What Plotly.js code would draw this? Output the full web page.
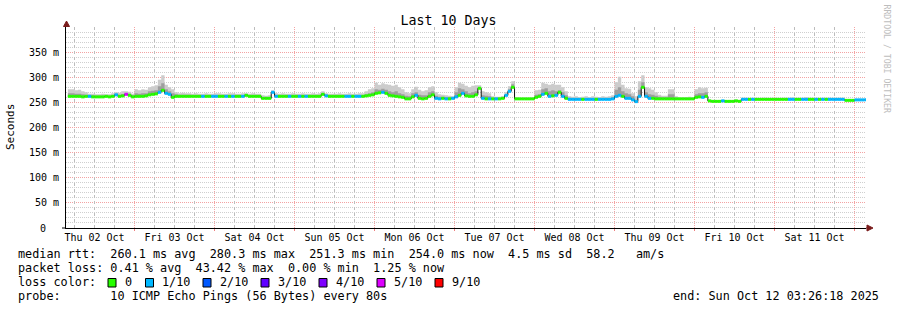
<!DOCTYPE html>
<html><head><meta charset="utf-8">
<script src="https://cdn.plot.ly/plotly-3.0.1.min.js"></script>
<style>html,body{margin:0;padding:0;background:#fff}#chart{width:897px;height:310px}</style>
</head><body><div id="chart"></div>
<script>
// hourly samples starting 2025-10-02 04:00
const median = [
262,262,262,262,261,262,262,261,261,261,
261,262,261,262,265,262,263,266,264,261,
262,262,262,263,265,266,267,270,274,268,
266,260,262,262,262,262,262,262,262,262,
262,262,262,262,262,262,262,262,262,262,
262,262,262,264,262,262,262,262,258,258,
258,270,262,262,262,262,262,262,262,262,
262,262,262,262,262,262,266,263,262,262,
262,262,262,262,262,262,262,262,262,263,
264,265,268,269,270,268,264,263,262,261,
260,257,257,261,264,258,257,258,262,265,
258,257,258,257,257,258,261,264,268,263,
262,262,265,278,258,257,257,257,257,257,
258,264,272,280,257,257,257,257,257,257,
260,262,266,268,262,263,264,270,262,258,
256,256,256,256,256,256,256,256,256,256,
256,256,256,257,262,264,262,258,258,255,
251.5,262,280,262,258,258,257,257,257,257,
257,257,257,257,257,257,257,257,260,261,
260,262,253,252,252,252,253,252,252,252,
253,252,256,256,256,256,256,256,256,256,
256,256,256,256,256,256,256,256,256,256,
256,256,256,256,256,256,256,256,256,256,
256,256,256,254,254,254,255,255,255,255];
const smokeHi = [
276,276,274,275,272,270,267,267,266,266,
267,266,266,268,270,269,272,272,271,267,
276,274,276,275,280,282,284,295,304,285,
280,276,270,268,269,268,268,267,268,267,
267,268,267,267,268,268,267,267,268,268,
267,267,268,268,267,268,267,267,264,263,
264,274,268,267,268,267,267,268,267,267,
268,267,267,268,267,268,272,268,267,267,
267,268,267,267,268,267,267,268,268,272,
276,278,289,285,288,286,285,283,285,280,
276,270,268,276,281,275,272,274,280,282,
270,266,265,264,263,262,280,289,287,283,
280,283,284,284,272,270,268,262,261,261,
262,270,282,292,260,259,259,259,259,260,
274,275,289,287,285,287,285,285,280,272,
262,261,262,260,261,262,260,262,261,260,
262,261,262,264,290,301,285,278,277,268,
262,292,304,280,278,275,270,265,263,263,
276,276,262,260,260,260,261,260,276,280,
278,279,255,254,254,254,255,254,254,254,
255,254,259,259,258,259,259,258,259,259,
258,259,259,258,259,259,259,260,259,259,
259,260,259,259,259,258,259,259,259,259,
259,259,259,256,256,256,256,256,256,256];
const smokeMid = [
268,268,267,267,266,265,264,264,263,263,
263,263,263,264,267,265,266,268,267,264,
268,267,268,268,272,273,274,282,288,276,
272,268,266,265,265,265,265,264,264,264,
264,264,264,264,264,264,264,264,264,264,
264,264,264,265,264,264,264,264,260,260,
260,272,264,264,264,264,264,264,264,264,
264,264,264,264,264,264,268,265,264,264,
264,264,264,264,264,264,264,264,264,266,
268,270,276,275,277,275,272,270,272,268,
266,263,262,268,270,265,264,264,270,272,
263,261,261,260,260,260,270,278,276,272,
268,270,272,280,264,263,262,259,259,259,
260,266,276,286,258,258,258,258,258,258,
265,266,276,278,272,274,272,274,270,264,
259,258,258,258,258,258,258,258,258,258,
258,258,258,260,275,280,272,268,266,262,
255,275,290,270,266,265,263,261,260,260,
266,266,259,258,258,258,258,258,266,268,
268,270,254,253,253,253,254,253,253,253,
254,253,257,257,257,257,257,257,257,257,
257,257,257,257,257,257,257,257,257,257,
257,257,257,257,257,257,257,257,257,257,
257,257,257,255,255,255,255,255,255,255];
// index into lossLevels
const lossIdx = [
0,0,0,0,0,0,1,0,0,0,
0,0,0,0,1,0,0,5,0,0,
0,0,0,0,0,0,0,1,0,1,
1,0,0,0,0,0,0,0,0,0,
1,0,0,1,1,0,0,1,0,1,
0,0,1,0,0,0,0,0,0,0,
0,1,1,0,0,0,1,0,0,1,
0,1,0,0,0,0,0,1,0,0,
0,0,0,1,1,0,1,1,0,0,
0,0,0,0,1,0,0,0,0,0,
0,0,0,0,1,0,0,0,0,0,
1,1,0,1,0,1,1,0,1,0,
0,0,0,0,1,0,1,0,1,0,
0,1,1,0,0,0,0,0,0,0,
0,0,1,0,1,0,1,0,1,0,
1,1,1,1,0,1,1,1,0,1,
1,1,1,1,1,1,0,1,1,1,
1,1,0,1,1,0,0,0,0,0,
0,0,0,0,0,0,0,0,0,0,
1,0,0,0,0,0,1,0,0,0,
0,0,1,1,0,1,0,0,0,0,
0,0,0,0,0,0,1,1,0,0,
1,1,0,0,1,0,1,0,1,1,
1,1,1,0,0,0,1,1,1,1];
const lossLevels = ['0','1/10','2/10','3/10','4/10','5/10','9/10'];
const lossColors = ['#26ff00','#00b8ff','#0059ff','#5e00ff','#7e00ff','#dd00ff','#ff0000'];
const yTickVals = [0,50,100,150,200,250,300,350];
const yTickText = ['','50 m','100 m','150 m','200 m','250 m','300 m','350 m'];
const startTime = '2025-10-02 03:26:18';
const endTime = '2025-10-12 03:26:18';
const statLines = [
 'median rtt:  260.1 ms avg  280.3 ms max  251.3 ms min  254.0 ms now  4.5 ms sd  58.2   am/s',
 'packet loss: 0.41 % avg  43.42 % max  0.00 % min  1.25 % now'
];
const probeLine = 'probe:       10 ICMP Echo Pings (56 Bytes) every 80s';
const endLine = 'end: Sun Oct 12 03:26:18 2025';

const t0 = Date.UTC(2025,9,2,4,0,0);
const fmt = ms => new Date(Math.round(ms)).toISOString().slice(0,19).replace('T',' ');
const times = median.map((_,i)=>fmt(t0+i*3600000));
const xs = times.concat([endTime]);
const ext = a => a.concat([a[a.length-1]]);

// 6-hourly vertical grid (not at midnight), snapped to the pixel grid
const startMs = Date.UTC(2025,9,2,3,26,18), spanMs = 10*86400000;
const gx = [], gy = [];
for(let d=0; d<=10; d++) for(const h of [6,12,18]){
  const ms = Date.UTC(2025,9,2+d,h);
  if(ms < startMs || ms > startMs+spanMs) continue;
  const px = Math.floor(66 + (ms-startMs)/spanMs*800) + 0.5;
  const t = fmt(startMs + (px-66)/800*spanMs);
  gx.push(t,t,null); gy.push(0,400,null);
}

const MONO = 'DejaVu Sans Mono';
const traces = [
 {x:gx,y:gy,mode:'lines',connectgaps:false,line:{width:1,color:'#bdbdbd',dash:'dot'},hoverinfo:'skip',showlegend:false},
 {x:xs,y:ext(median),mode:'lines',line:{width:0,shape:'hv'},hoverinfo:'skip',showlegend:false},
 {x:xs,y:ext(smokeHi),mode:'lines',line:{width:0,shape:'hv'},fill:'tonexty',fillcolor:'#cccccc',hoverinfo:'skip',showlegend:false},
 {x:xs,y:ext(median),mode:'lines',line:{width:0,shape:'hv'},hoverinfo:'skip',showlegend:false},
 {x:xs,y:ext(smokeMid),mode:'lines',line:{width:0,shape:'hv'},fill:'tonexty',fillcolor:'#9e9e9e',hoverinfo:'skip',showlegend:false},
 {x:xs,y:ext(median),mode:'lines',line:{width:1,shape:'hv',color:'#111'},hoverinfo:'skip',showlegend:false}
];
lossColors.forEach((c,k)=>{
  const sx=[],sy=[];
  for(let i=0;i<median.length;i++){
    if(lossIdx[i]===k){sx.push(xs[i],xs[i+1],null);sy.push(median[i],median[i],null);}
  }
  if(sx.length) traces.push({x:sx,y:sy,mode:'lines',line:{width:3,color:c},hoverinfo:'skip',showlegend:false,name:lossLevels[k]});
});

// pixel helpers (plot area: x 66..866, y 27..228)
const PX = px => (px-66)/800;
const PY = py => (228-py)/201;

const shapes = [];
const annotations = [];
const txt = (s,px,py,opt={}) => annotations.push(Object.assign({text:s.replace(/ /g,'\u00a0'),xref:'paper',yref:'paper',x:PX(px),y:PY(py),xanchor:'left',yanchor:'middle',showarrow:false,font:{family:MONO,size:11.8,color:'#000'}},opt));
txt(statLines[0],16,254);
txt(statLines[1],16,268);
txt('loss color:',16,282);
txt(probeLine,16,296);
txt(endLine,881,296,{xanchor:'right'});
const sqX = [108,145.5,203,261,319,377,435];
const lblX = [123,160,218,276,334,392,450];
lossLevels.forEach((l,k)=>{
  txt(l,lblX[k],282);
  shapes.push({type:'rect',xref:'paper',yref:'paper',x0:PX(sqX[k]),x1:PX(sqX[k]+8),y0:PY(287),y1:PY(278.5),fillcolor:lossColors[k],line:{color:'#000',width:1}});
});
annotations.push({text:'0',xref:'paper',yref:'paper',x:PX(48),y:PY(228.5),showarrow:false,xanchor:'right',yanchor:'middle',font:{family:MONO,size:10,color:'#000'}});
annotations.push({text:'Seconds',xref:'paper',yref:'paper',x:PX(11),y:PY(127),textangle:-90,showarrow:false,xanchor:'center',yanchor:'middle',font:{family:MONO,size:11,color:'#000'}});
annotations.push({text:'RRDTOOL / TOBI OETIKER',xref:'paper',yref:'paper',x:PX(886.5),y:PY(59),textangle:90,showarrow:false,xanchor:'center',yanchor:'middle',font:{family:MONO,size:8.2,color:'#bdbdbd'}});
// axis arrows and tick stub at zero
shapes.push({type:'path',xref:'paper',yref:'paper',path:`M${PX(866)},${PY(228)} L${PX(868)},${PY(228)} M${PX(867)},${PY(225)} L${PX(873)},${PY(228)} L${PX(867)},${PY(231)} Z`,fillcolor:'#7a1c1c',line:{color:'#7a1c1c',width:1}});
shapes.push({type:'path',xref:'paper',yref:'paper',path:`M${PX(63.5)},${PY(26.5)} L${PX(69.5)},${PY(26.5)} L${PX(66.5)},${PY(21)} Z`,fillcolor:'#7a1c1c',line:{color:'#7a1c1c',width:1}});
shapes.push({type:'line',xref:'paper',yref:'paper',x0:PX(62),x1:PX(66),y0:PY(228),y1:PY(228),line:{color:'#000',width:1}});

const layout = {
 width:897,height:310,
 margin:{l:66,r:31,t:27,b:82},
 paper_bgcolor:'#fff',plot_bgcolor:'#fff',
 showlegend:false,
 title:{text:'Last 10 Days',font:{family:MONO,size:13.3,color:'#000'},x:0.5,xref:'container',y:1-20/310,yref:'container',yanchor:'middle'},
 xaxis:{type:'date',range:[startTime,endTime],tickmode:'linear',tick0:'2025-10-02 00:00:00',dtick:86400000,
   tickformat:'%a %d %b',ticklabelmode:'period',ticks:'outside',ticklen:2,tickcolor:'#f08080',ticklabelstandoff:-2,
   showgrid:true,gridcolor:'#f3a3a3',griddash:'1px,1px',gridwidth:1,
   showline:true,linecolor:'#000',linewidth:1,zeroline:false,
   tickfont:{family:MONO,size:10,color:'#000'},fixedrange:true},
 yaxis:{range:[0,400],tickmode:'array',tickvals:yTickVals,ticktext:yTickText,ticks:'outside',ticklen:4,tickcolor:'rgba(0,0,0,0)',
   showgrid:true,gridcolor:'#f3a3a3',griddash:'1px,1px',gridwidth:1,
   minor:{tickmode:'linear',dtick:10,tick0:0,showgrid:true,gridcolor:'#cfcfcf',griddash:'1px,1px',ticks:''},
   showline:true,linecolor:'#000',linewidth:1,zeroline:false,
   tickfont:{family:MONO,size:10,color:'#000'},fixedrange:true},
 annotations:annotations,
 shapes:shapes
};
Plotly.newPlot('chart',traces,layout,{displayModeBar:false,staticPlot:true});
</script>
</body></html>
